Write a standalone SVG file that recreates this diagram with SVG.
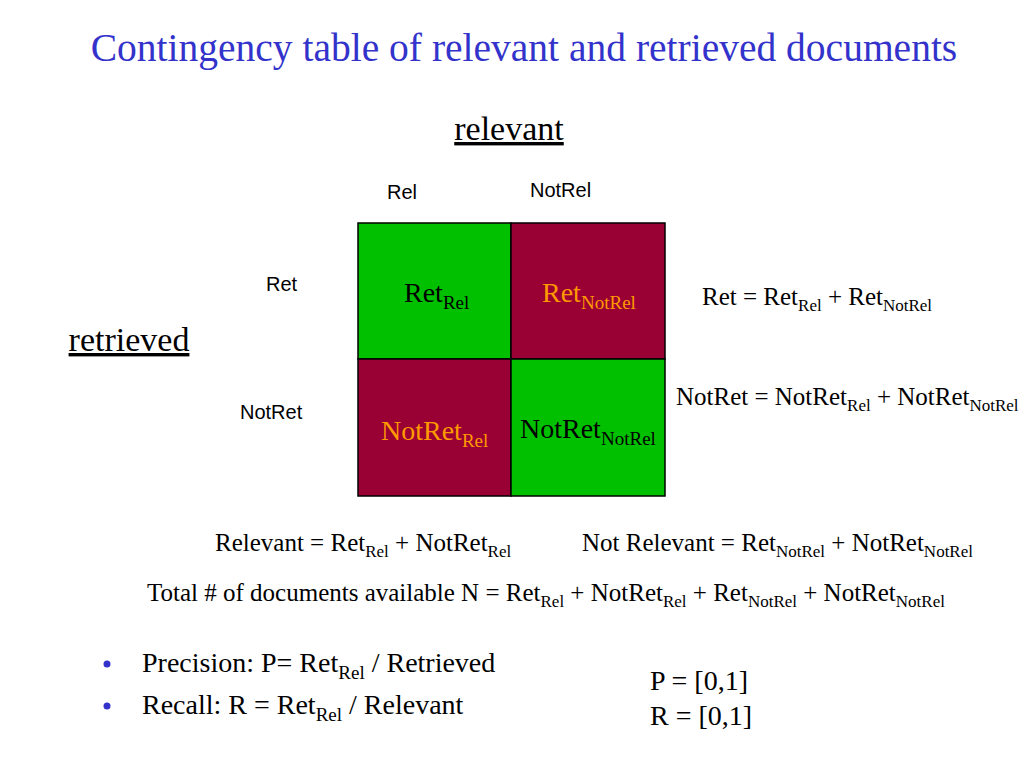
<svg xmlns="http://www.w3.org/2000/svg" width="1024" height="768" viewBox="0 0 1024 768">
<style>
.t{font-family:"Liberation Serif","Times New Roman",serif;fill:#000}
.a{font-family:"Liberation Sans",Arial,sans-serif;font-size:20px;fill:#000}
.s{font-size:68%}
.o{fill:#ff9900}
.g{fill:#00c000;stroke:#000;stroke-width:1.5}
.m{fill:#990033;stroke:#000;stroke-width:1.5}
</style>
<rect width="1024" height="768" fill="#fff"/>
<text class="t" x="524" y="61" font-size="39.5" text-anchor="middle" style="fill:#3333cc">Contingency table of relevant and retrieved documents</text>
<text class="t" x="509" y="140" font-size="34" text-anchor="middle" text-decoration="underline">relevant</text>
<text class="t" x="129" y="351" font-size="34" text-anchor="middle" text-decoration="underline">retrieved</text>
<text class="a" x="387" y="199">Rel</text>
<text class="a" x="530" y="197">NotRel</text>
<text class="a" x="266" y="291">Ret</text>
<text class="a" x="240" y="419">NotRet</text>
<g id="cell-ret-rel"><rect class="g" x="358" y="223" width="153" height="136"/><text class="t" x="404" y="302" font-size="28">Ret<tspan class="s" dy="7">Rel</tspan></text></g>
<g id="cell-ret-notrel"><rect class="m" x="511" y="223" width="154" height="136"/><text class="t o" x="542" y="302" font-size="28">Ret<tspan class="s" dy="7">NotRel</tspan></text></g>
<g id="cell-notret-rel"><rect class="m" x="358" y="359" width="153" height="137"/><text class="t o" x="381" y="440" font-size="28">NotRet<tspan class="s" dy="7">Rel</tspan></text></g>
<g id="cell-notret-notrel"><rect class="g" x="511" y="359" width="154" height="137"/><text class="t" x="520" y="438" font-size="28">NotRet<tspan class="s" dy="7">NotRel</tspan></text></g>
<text class="t" x="702" y="305" font-size="25">Ret = Ret<tspan class="s" dy="6">Rel</tspan><tspan dy="-6"> + Ret</tspan><tspan class="s" dy="6">NotRel</tspan></text>
<text class="t" x="676" y="405" font-size="25">NotRet = NotRet<tspan class="s" dy="6">Rel</tspan><tspan dy="-6"> + NotRet</tspan><tspan class="s" dy="6">NotRel</tspan></text>
<text class="t" x="215" y="551" font-size="25">Relevant = Ret<tspan class="s" dy="6">Rel</tspan><tspan dy="-6"> + NotRet</tspan><tspan class="s" dy="6">Rel</tspan></text>
<text class="t" x="582" y="551" font-size="25">Not Relevant = Ret<tspan class="s" dy="6">NotRel</tspan><tspan dy="-6"> + NotRet</tspan><tspan class="s" dy="6">NotRel</tspan></text>
<text class="t" x="147" y="601" font-size="25">Total # of documents available N = Ret<tspan class="s" dy="6">Rel</tspan><tspan dy="-6"> + NotRet</tspan><tspan class="s" dy="6">Rel</tspan><tspan dy="-6"> + Ret</tspan><tspan class="s" dy="6">NotRel</tspan><tspan dy="-6"> + NotRet</tspan><tspan class="s" dy="6">NotRel</tspan></text>
<circle cx="107" cy="664" r="3.5" fill="#3333cc"/>
<circle cx="107" cy="706" r="3.5" fill="#3333cc"/>
<text class="t" x="142" y="672" font-size="28">Precision: P= Ret<tspan class="s" dy="7">Rel</tspan><tspan dy="-7"> / Retrieved</tspan></text>
<text class="t" x="142" y="714" font-size="28">Recall: R = Ret<tspan class="s" dy="7">Rel</tspan><tspan dy="-7"> / Relevant</tspan></text>
<text class="t" x="650" y="690" font-size="28">P = [0,1]</text>
<text class="t" x="650" y="725" font-size="28">R = [0,1]</text>
</svg>
